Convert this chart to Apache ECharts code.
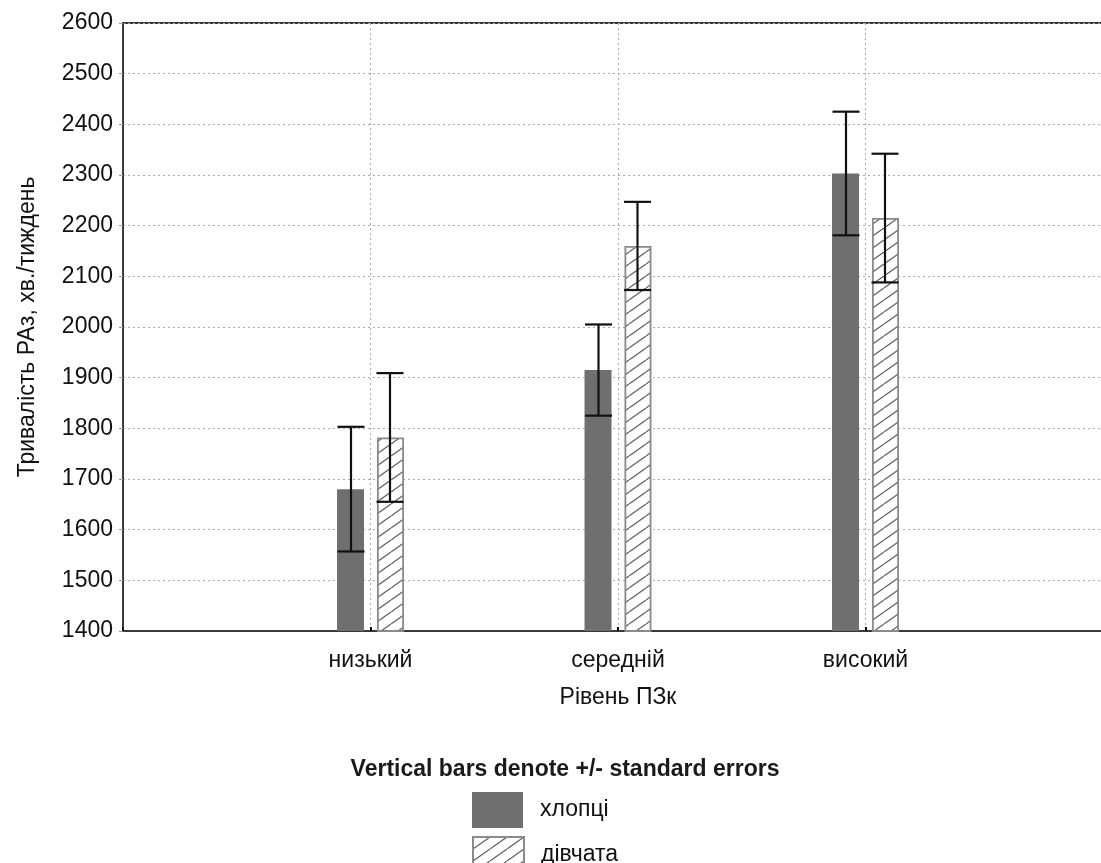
<!DOCTYPE html>
<html>
<head>
<meta charset="utf-8">
<script src="https://cdn.jsdelivr.net/npm/echarts@6/dist/echarts.min.js"></script>
<style>
html,body{margin:0;padding:0;background:#fff;overflow:hidden;}
#chart{width:1101px;height:863px;}
</style>
</head>
<body>
<div id="chart"></div>
<script>
const categories = ['низький', 'середній', 'високий'];
const seriesNames = ['хлопці', 'дівчата'];
const boysMean = [1680, 1915, 2303];
const boysSE = [123, 90, 122];
const girlsMean = [1782, 2160, 2215];
const girlsSE = [127, 87, 127];
const yTicks = [1400, 1500, 1600, 1700, 1800, 1900, 2000, 2100, 2200, 2300, 2400, 2500, 2600];

const FONT = '"Liberation Sans", Arial, sans-serif';
const FS = 23;

function hatch() {
  const W = 17, H = 12;
  const c = document.createElement('canvas');
  c.width = W; c.height = H;
  const g = c.getContext('2d');
  g.fillStyle = '#ffffff';
  g.fillRect(0, 0, W, H);
  g.strokeStyle = '#5e5e5e';
  g.lineWidth = 1.2;
  g.beginPath();
  for (let k = -1; k <= 1; k++) {
    g.moveTo(k * W, H); g.lineTo((k + 1) * W, 0);
  }
  g.stroke();
  return c;
}

const BAR_W = 27;
const OFFSET = 19.5;

function errData(means, ses) {
  return means.map((m, i) => [i + 1, m - ses[i], m + ses[i]]);
}

function errSeries(means, ses, dx) {
  return {
    type: 'custom',
    silent: true,
    z: 10,
    data: errData(means, ses),
    renderItem: function (params, api) {
      const x = api.value(0);
      const lo = api.coord([x, api.value(1)]);
      const hi = api.coord([x, api.value(2)]);
      const cx = lo[0] + dx;
      const hw = BAR_W / 2;
      const st = { stroke: '#111', lineWidth: 2.2 };
      return {
        type: 'group',
        children: [
          { type: 'line', shape: { x1: cx, y1: lo[1], x2: cx, y2: hi[1] }, style: st },
          { type: 'line', shape: { x1: cx - hw, y1: lo[1], x2: cx + hw, y2: lo[1] }, style: st },
          { type: 'line', shape: { x1: cx - hw, y1: hi[1], x2: cx + hw, y2: hi[1] }, style: st }
        ]
      };
    }
  };
}

const hatchImg = hatch();
const legendCommon = {
  orient: 'vertical',
  left: 467,
  itemWidth: 51, itemHeight: 36,
  icon: 'rect',
  textStyle: { fontFamily: FONT, fontSize: FS, color: '#111', padding: [0, 0, 16, 12] }
};

const chart = echarts.init(document.getElementById('chart'), null, { renderer: 'canvas' });
chart.setOption({
  backgroundColor: '#ffffff',
  animation: false,
  textStyle: { fontFamily: FONT },
  grid: {
    left: 123, top: 23, width: 990, height: 608,
    outerBoundsMode: 'none',
    containLabel: false,
    show: true, borderColor: '#3a3a3a', borderWidth: 2, backgroundColor: 'transparent'
  },
  title: {
    text: 'Vertical bars denote +/- standard errors',
    left: 560, top: 753, textAlign: 'center',
    textStyle: { fontFamily: FONT, fontSize: 23, fontWeight: 'bold', color: '#1a1a1a' }
  },
  legend: [
    Object.assign({}, legendCommon, { top: 787, data: [seriesNames[0]] }),
    Object.assign({}, legendCommon, { top: 831, data: [seriesNames[1]] })
  ],
  xAxis: {
    type: 'value',
    min: 0, max: 4, interval: 1,
    name: 'Рівень ПЗк',
    nameLocation: 'middle',
    nameGap: 55,
    nameTextStyle: { fontFamily: FONT, fontSize: FS, color: '#111' },
    axisLine: { show: true, lineStyle: { color: '#3a3a3a', width: 2 } },
    axisTick: { show: true, inside: true, length: 4, lineStyle: { color: '#111', width: 2 } },
    axisLabel: {
      margin: 18,
      fontFamily: FONT, fontSize: FS, color: '#111',
      formatter: function (v) { return categories[v - 1] || ''; }
    },
    splitLine: { show: true, lineStyle: { color: '#aaaaaa', type: [2, 3], width: 1 } }
  },
  yAxis: {
    type: 'value',
    min: 1400, max: 2600, interval: 100,
    name: 'Тривалість РАз, хв./тиждень',
    nameLocation: 'middle',
    nameGap: 84,
    nameRotate: 90,
    nameTextStyle: { fontFamily: FONT, fontSize: FS, color: '#111' },
    axisLine: { show: true, lineStyle: { color: '#3a3a3a', width: 2 } },
    axisTick: { show: true, length: 4, lineStyle: { color: '#999' } },
    axisLabel: {
      margin: 10, fontFamily: FONT, fontSize: FS, color: '#111',
      formatter: function (v) { return yTicks.indexOf(v) >= 0 ? String(v) : ''; }
    },
    splitLine: { show: true, lineStyle: { color: '#aaaaaa', type: [2, 3], width: 1 } }
  },
  series: [
    {
      name: seriesNames[0],
      type: 'bar',
      barWidth: BAR_W,
      barGap: '48%',
      clip: true,
      itemStyle: { color: '#6f6f6f', borderColor: '#6f6f6f', borderWidth: 0 },
      data: boysMean.map((m, i) => [i + 1, m])
    },
    {
      name: seriesNames[1],
      type: 'bar',
      barWidth: BAR_W,
      barGap: '48%',
      clip: true,
      itemStyle: { color: { image: hatchImg, repeat: 'repeat' }, borderColor: '#8a8a8a', borderWidth: 1.8 },
      data: girlsMean.map((m, i) => [i + 1, m])
    },
    errSeries(boysMean, boysSE, -OFFSET),
    errSeries(girlsMean, girlsSE, OFFSET)
  ]
});
</script>
</body>
</html>
